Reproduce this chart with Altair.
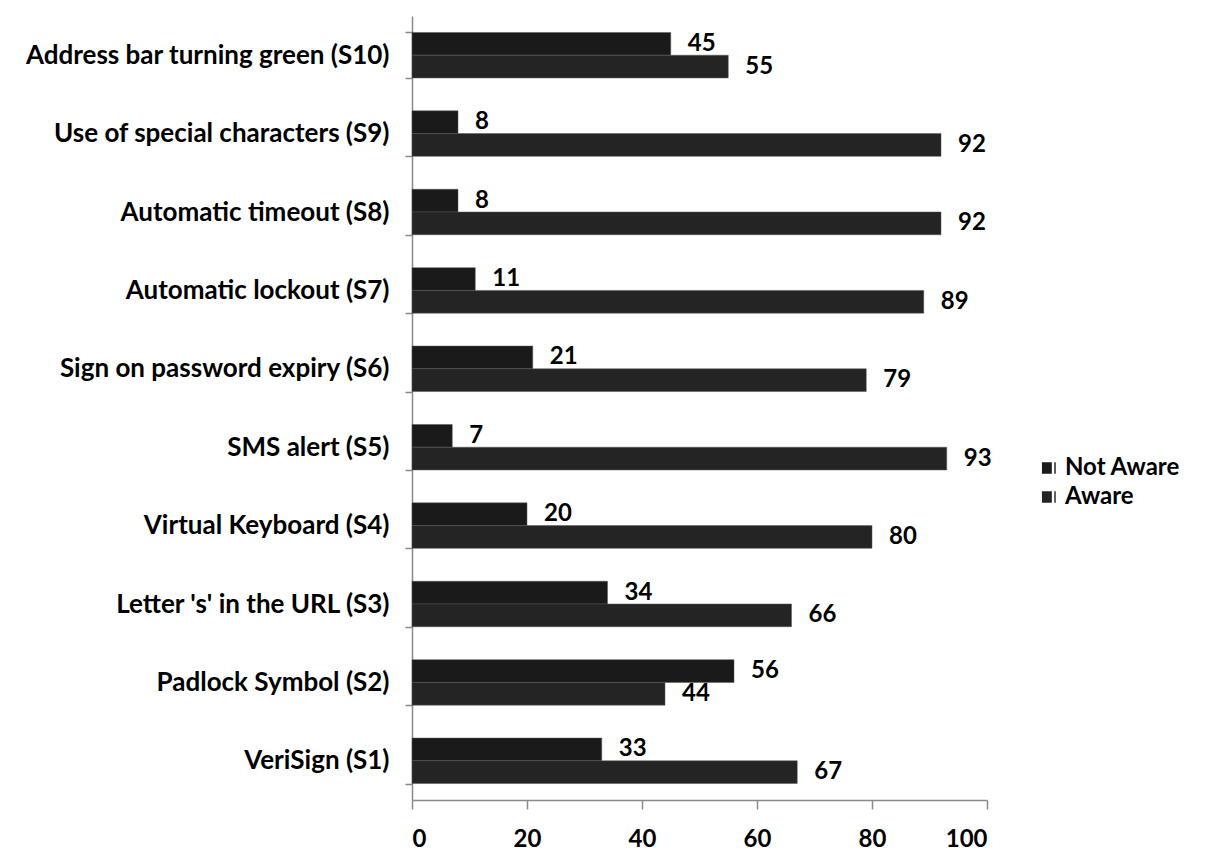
import altair as alt
import pandas as pd

categories = [
    "Address bar turning green (S10)",
    "Use of special characters (S9)",
    "Automatic timeout (S8)",
    "Automatic lockout (S7)",
    "Sign on password expiry (S6)",
    "SMS alert (S5)",
    "Virtual Keyboard (S4)",
    "Letter 's' in the URL (S3)",
    "Padlock Symbol (S2)",
    "VeriSign (S1)",
]
not_aware = [45, 8, 8, 11, 21, 7, 20, 34, 56, 33]
aware = [55, 92, 92, 89, 79, 93, 80, 66, 44, 67]
series = ["Not Aware", "Aware"]
series_colors = ["#1a1a1a", "#242424"]
x_ticks = [0, 20, 40, 60, 80, 100]

rows = []
for c, n, a in zip(categories, not_aware, aware):
    rows.append({"cat": c, "series": "Not Aware", "value": n})
    rows.append({"cat": c, "series": "Aware", "value": a})
df = pd.DataFrame(rows)

FONT = "Lato"

y = alt.Y(
    "cat:N",
    sort=categories,
    scale=alt.Scale(paddingInner=0.42, paddingOuter=0.21),
    axis=alt.Axis(
        title=None,
        labelFont=FONT,
        labelFontSize=26,
        labelFontWeight="bold",
        labelColor="black",
        labelPadding=16,
        labelLimit=420,
        tickSize=7,
        tickBand="extent",
        domainColor="#8a8a8a",
        tickColor="#8a8a8a",
        domainWidth=1.5,
        tickWidth=1.5,
    ),
)
yoff = alt.YOffset("series:N", sort=series, scale=alt.Scale(domain=series))
x = alt.X(
    "value:Q",
    scale=alt.Scale(domain=[0, 100], nice=False),
    axis=alt.Axis(
        title=None,
        values=x_ticks,
        grid=False,
        labelFont=FONT,
        labelFontSize=24,
        labelFontWeight="bold",
        labelColor="black",
        labelPadding=18,
        tickSize=9,
        domainColor="#8a8a8a",
        tickColor="#8a8a8a",
        domainWidth=1.5,
        tickWidth=1.5,
    ),
)

bars = alt.Chart(df).mark_bar(stroke="#555", strokeWidth=0.5).encode(
    y=y,
    yOffset=yoff,
    x=x,
    color=alt.Color(
        "series:N",
        sort=series,
        scale=alt.Scale(domain=series, range=series_colors),
        legend=alt.Legend(
            title=None,
            orient="none",
            legendX=625,
            legendY=440,
            symbolType="M-1,-0.8H0.4V0.8H-1Z M0.75,-0.8H0.95V0.8H0.75Z",
            symbolSize=200,
            symbolStrokeWidth=0,
            labelFont=FONT,
            labelFontSize=24,
            labelFontWeight="bold",
            labelColor="black",
            labelOffset=4,
            rowPadding=5,
            padding=0,
        ),
    ),
)

text = alt.Chart(df).mark_text(
    align="left", baseline="middle", dx=17, font=FONT, fontSize=24,
    fontWeight="bold", color="black"
).encode(y=y, yOffset=yoff, x="value:Q", text="value:Q")

chart = (
    (bars + text)
    .properties(
        width=575,
        height=784,
        padding={"left": 412, "top": 16, "right": 224, "bottom": 60},
        autosize=alt.AutoSizeParams(type="none"),
        background="white",
    )
    .configure_view(stroke=None)
)

chart.save("out.html", embed_options={"renderer": "svg", "actions": False})
